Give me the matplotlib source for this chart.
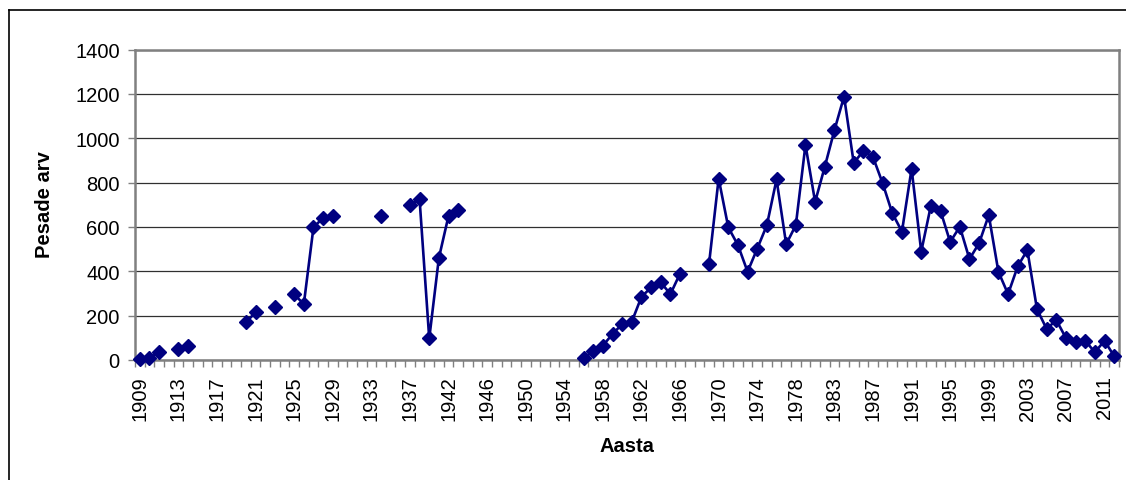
import numpy as np
import matplotlib
matplotlib.use('Agg')
from matplotlib import pyplot as plt
from matplotlib.lines import Line2D

plt.rcParams['font.family'] = ['Liberation Sans', 'DejaVu Sans']

# category labels (two years are absent from the category axis)
years = (list(range(1909, 1938)) + [1938, 1939, 1941] + list(range(1942, 1979))
         + [1979, 1980, 1982] + list(range(1983, 2013)))

# number of nests per category, None = no data
nests = [3, 8, 37, None, 50, 65, None, None, None, None,
         None, 170, 215, None, 240, None, 296, 252, 598, 641,
         650, None, None, None, None, 650, None, None, 699, 724,
         97, 460, 650, 675, None, None, None, None, None, None,
         None, None, None, None, None, None, 8, 40, 65, 117,
         162, 173, 285, 327, 350, 297, 390, None, None, 432,
         818, 598, 518, 398, 502, 608, 814, 522, 608, 970,
         713, 871, 1036, 1188, 889, 942, 915, 797, 662, 579,
         862, 489, 696, 672, 532, 601, 455, 527, 653, 398,
         297, 422, 496, 229, 140, 180, 99, 82, 87, 35,
         87, 17]

y = np.array(nests, dtype=float)
x = np.arange(len(years))

fig = plt.figure(figsize=(11.26, 4.81), dpi=100)
ax = fig.add_axes([135/1126, 1-361/481, (1119-135)/1126, (361-50.5)/481])

ax.plot(x, y, color='#000080', lw=1.9, marker='D', ms=7.6,
        markeredgecolor='#000080', clip_on=False, zorder=3)

ax.set_xlim(-0.5, len(years) - 0.5)
ax.set_ylim(0, 1400)
ax.set_yticks(range(0, 1401, 200))
ax.yaxis.grid(True, color='#303030', lw=0.9)
ax.set_axisbelow(True)

# labels every 4th category, tick marks between every category
ax.set_xticks(x[::4])
ax.set_xticklabels([str(v) for v in years[::4]], rotation=90, va='top', ha='center')
ax.set_xticks(np.arange(-0.5, len(years)), minor=True)
ax.tick_params(axis='x', which='major', length=0, pad=11, labelsize=14.5)
ax.tick_params(axis='x', which='minor', length=5, width=1, color='#808080')
ax.tick_params(axis='y', length=5, width=1, color='#808080', pad=6, labelsize=14.5)

for s in ax.spines.values():
    s.set_color('#808080')
    s.set_linewidth(1.8)

fig.text(45/1126, 1-205/481, 'Pesade arv', fontsize=14.5, fontweight='bold',
         rotation=90, ha='center', va='center')
fig.text(627/1126, 1-447/481, 'Aasta', fontsize=14.5, fontweight='bold',
         ha='center', va='center')

# chart area border (cropped at right and bottom)
fig.add_artist(Line2D([8.5/1126, 1], [1-10.5/481, 1-10.5/481], color='black', lw=1.2))
fig.add_artist(Line2D([8.5/1126, 8.5/1126], [0, 1-10.5/481], color='black', lw=1.2))

plt.savefig('out.png', dpi=100)
